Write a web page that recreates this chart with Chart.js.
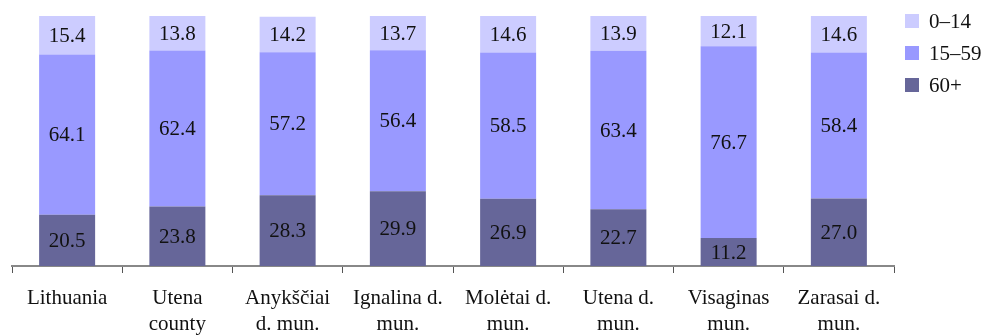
<!DOCTYPE html>
<html>
<head>
<meta charset="utf-8">
<script src="https://cdn.jsdelivr.net/npm/chart.js@4"></script>
<style>
  html, body { margin: 0; padding: 0; background: #fff; }
  #wrap { width: 986px; height: 335px; position: relative; }
</style>
</head>
<body>
<div id="wrap"><canvas id="chart"></canvas></div>
<script>
// Population by age group, per cent
const categories = [
  ["Lithuania"],
  ["Utena", "county"],
  ["Anykščiai", "d. mun."],
  ["Ignalina d.", "mun."],
  ["Molėtai d.", "mun."],
  ["Utena d.", "mun."],
  ["Visaginas", "mun."],
  ["Zarasai d.", "mun."]
];
const age60plus = [20.5, 23.8, 28.3, 29.9, 26.9, 22.7, 11.2, 27.0];
const age15to59 = [64.1, 62.4, 57.2, 56.4, 58.5, 63.4, 76.7, 58.4];
const age0to14  = [15.4, 13.8, 14.2, 13.7, 14.6, 13.9, 12.1, 14.6];
const seriesNames = ["60+", "15–59", "0–14"];

const FONT = "'Liberation Serif', 'Times New Roman', serif";

// Values written in the middle of each stacked segment
const segmentLabels = {
  id: 'segmentLabels',
  afterDatasetsDraw(chart) {
    const ctx = chart.ctx;
    ctx.save();
    ctx.font = "21px " + FONT;
    ctx.fillStyle = "#111";
    ctx.textAlign = "center";
    ctx.textBaseline = "middle";
    chart.data.datasets.forEach((ds, i) => {
      chart.getDatasetMeta(i).data.forEach((bar, j) => {
        const p = bar.getProps(['x', 'y', 'base'], true);
        ctx.fillText(ds.data[j].toFixed(1), p.x, (p.y + p.base) / 2 + 1);
      });
    });
    ctx.restore();
  }
};

// Legend on the right: youngest group on top
const sideLegend = {
  id: 'sideLegend',
  afterDraw(chart) {
    const ctx = chart.ctx;
    ctx.save();
    ctx.font = "21px " + FONT;
    ctx.textAlign = "left";
    ctx.textBaseline = "middle";
    const order = [2, 1, 0];
    order.forEach((di, k) => {
      const ds = chart.data.datasets[di];
      const cy = 21 + k * 32;
      ctx.fillStyle = ds.backgroundColor;
      ctx.fillRect(905, cy - 7, 14, 14);
      ctx.fillStyle = "#111";
      ctx.fillText(ds.label, 929, cy + 1);
    });
    ctx.restore();
  }
};

new Chart(document.getElementById('chart'), {
  type: 'bar',
  data: {
    labels: categories,
    datasets: [
      { label: seriesNames[0], data: age60plus, backgroundColor: '#666699' },
      { label: seriesNames[1], data: age15to59, backgroundColor: '#9999FF' },
      { label: seriesNames[2], data: age0to14,  backgroundColor: '#CCCCFF' }
    ]
  },
  options: {
    responsive: true,
    maintainAspectRatio: false,
    animation: false,
    events: [],
    layout: { padding: { left: 12, right: 92, top: 16, bottom: 0 } },
    datasets: { bar: { categoryPercentage: 1, barPercentage: 0.508 } },
    plugins: { legend: { display: false }, tooltip: { enabled: false } },
    scales: {
      x: {
        stacked: true,
        offset: true,
        afterFit(scale) { scale.height = 69; },
        border: { display: true, color: '#888', width: 2 },
        grid: {
          offset: true,
          drawOnChartArea: false,
          drawTicks: true,
          tickLength: 7,
          color: '#555',
          lineWidth: 1
        },
        ticks: {
          color: '#111',
          padding: 12,
          maxRotation: 0,
          autoSkip: false,
          font: { family: FONT, size: 21, lineHeight: 1.24 }
        }
      },
      y: {
        stacked: true,
        display: false,
        min: 0,
        max: 100
      }
    }
  },
  plugins: [segmentLabels, sideLegend]
});
</script>
</body>
</html>
